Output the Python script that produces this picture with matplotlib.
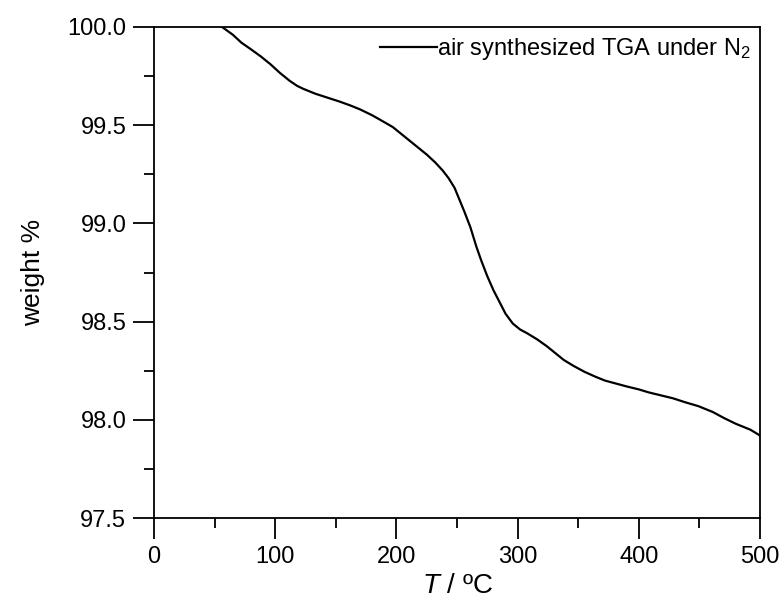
import matplotlib
matplotlib.use("Agg")
import matplotlib.pyplot as plt
from matplotlib.ticker import MultipleLocator

plt.rcParams["font.family"] = ["Liberation Sans", "DejaVu Sans"]
plt.rcParams["mathtext.fontset"] = "custom"
plt.rcParams["mathtext.rm"] = "Liberation Sans"
plt.rcParams["mathtext.it"] = "Liberation Sans:italic"

# TGA trace
temp = [0, 20, 40, 50, 56, 65, 72, 79, 88, 96, 104, 112, 118, 123, 133,
        143, 153, 162, 170, 180, 190, 197, 207, 217, 225, 232, 238, 243, 248,
        252, 256, 261, 266, 270, 275, 280, 285, 290, 296, 302, 308, 316, 324,
        331, 338, 346, 355, 364, 372, 378, 390, 400, 408, 418, 428, 438, 449,
        461, 470, 480, 492, 500]
weight = [100.08, 100.06, 100.04, 100.02, 100.0, 99.96, 99.92, 99.89, 99.85,
          99.81, 99.765, 99.725, 99.70, 99.685, 99.66, 99.64, 99.62, 99.60, 99.58,
          99.55, 99.515, 99.49, 99.44, 99.39, 99.35, 99.31, 99.27, 99.23, 99.18,
          99.12, 99.06, 98.98, 98.88, 98.81, 98.73, 98.66, 98.60, 98.54, 98.49,
          98.46, 98.44, 98.41, 98.375, 98.34, 98.305, 98.275, 98.245, 98.22, 98.20,
          98.19, 98.17, 98.155, 98.14, 98.125, 98.11, 98.09, 98.07, 98.04, 98.01,
          97.98, 97.95, 97.92]

fig = plt.figure(figsize=(7.82, 6.11), dpi=100)
ax = fig.add_axes([0.197, 0.152, 0.775, 0.804])
ax.plot(temp, weight, color="black", lw=1.6, solid_joinstyle="round",
        label="air synthesized TGA under N$_2$")

ax.set_xlim(0, 500)
ax.set_ylim(97.5, 100.0)
ax.xaxis.set_major_locator(MultipleLocator(100))
ax.xaxis.set_minor_locator(MultipleLocator(50))
ax.yaxis.set_major_locator(MultipleLocator(0.5))
ax.yaxis.set_minor_locator(MultipleLocator(0.25))
ax.yaxis.set_major_formatter(plt.FormatStrFormatter("%.1f"))
ax.tick_params(which="major", direction="out", length=15, width=1.3, labelsize=17, pad=5)
ax.tick_params(which="minor", direction="out", length=7, width=1.3)
for s in ax.spines.values():
    s.set_linewidth(1.3)

ax.set_xlabel("$T$ / ºC", fontsize=20, labelpad=4)
ax.set_ylabel("weight %", fontsize=19, labelpad=16)

ax.legend(loc="upper right", frameon=False, fontsize=17, handlelength=2.4,
          handletextpad=0.0, borderaxespad=0.0)

fig.savefig("out.png", dpi=100)
